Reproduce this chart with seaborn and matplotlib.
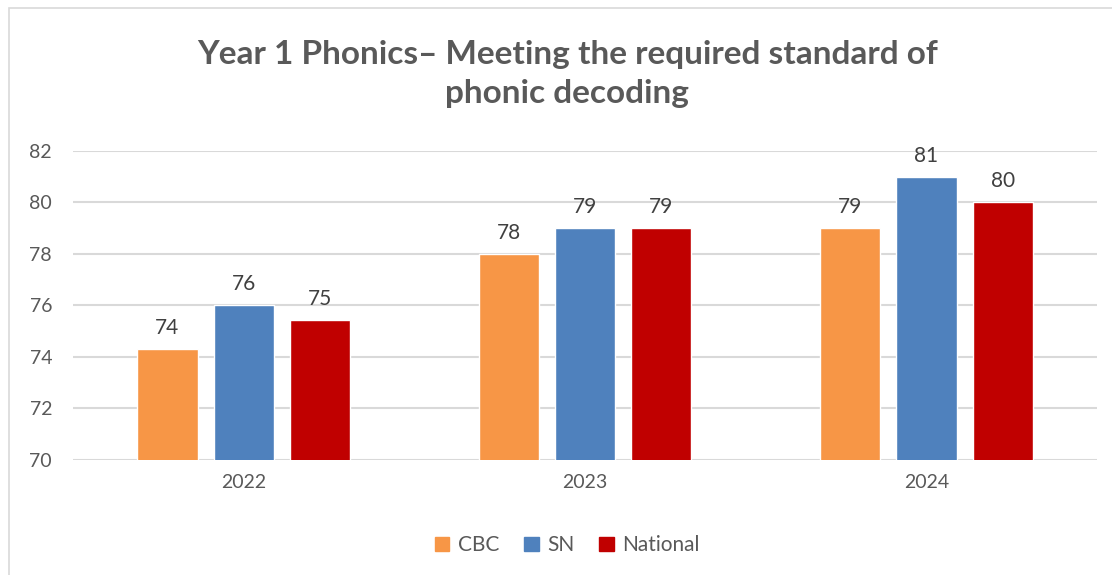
import matplotlib
matplotlib.use("Agg")
import matplotlib.pyplot as plt
import matplotlib.patches as mpatches
import pandas as pd
import seaborn as sns

years = ["2022", "2023", "2024"]
series = ["CBC", "SN", "National"]
cbc = [74.3, 78.0, 79.0]
sn = [76.0, 79.0, 81.0]
national = [75.45, 79.0, 80.0]
yticks = [70, 72, 74, 76, 78, 80, 82]

COLORS = {"CBC": "#F79646", "SN": "#4F81BD", "National": "#C00000"}
TEXT = "#595959"

df = pd.DataFrame({
    "year": years * 3,
    "series": [s for s in series for _ in years],
    "value": cbc + sn + national,
})

sns.set_theme(style="white")
plt.rcParams["font.family"] = ["Lato", "DejaVu Sans"]

fig = plt.figure(figsize=(11.12, 5.75), dpi=100)
ax = fig.add_axes([0.0656, 0.2, 0.921, 0.5374])

sns.barplot(data=df, x="year", y="value", hue="series", hue_order=series,
            palette=COLORS, saturation=1, width=0.67, gap=0.21, ax=ax,
            legend=False, zorder=3)

for cont in ax.containers:
    ax.bar_label(cont, fmt="%.0f", padding=8, fontsize=15, color="#404040")

ax.set_ylim(70, 82)
ax.set_yticks(yticks)
ax.set_xlim(-0.5, 2.5)
ax.grid(axis="y", color="#D9D9D9", linewidth=1.5, zorder=0)
ax.set_axisbelow(True)
for sp in ax.spines.values():
    sp.set_visible(False)
ax.tick_params(axis="both", length=0, labelsize=14, colors=TEXT, pad=10)
ax.tick_params(axis="y", pad=15)
ax.set_xlabel("")
ax.set_ylabel("")

fig.text(0.51, 0.871, "Year 1 Phonics\u2013 Meeting the required standard of\nphonic decoding",
         ha="center", va="center", fontsize=24, fontweight="bold", color=TEXT,
         linespacing=1.4)

handles = [mpatches.Patch(color=COLORS[s], label=s) for s in series]
leg = fig.legend(handles=handles, loc="center", bbox_to_anchor=(0.51, 0.052),
                 ncol=3, frameon=False, fontsize=15, handlelength=0.7,
                 handleheight=0.7, handletextpad=0.4, columnspacing=1.2)
for t in leg.get_texts():
    t.set_color(TEXT)

# light chart-area frame
fig.patches.append(mpatches.Rectangle((0.008, -0.05), 1.1, 1.036,
                                      transform=fig.transFigure, fill=False,
                                      edgecolor="#D9D9D9", linewidth=1.2))

fig.savefig("out.png", dpi=100)
